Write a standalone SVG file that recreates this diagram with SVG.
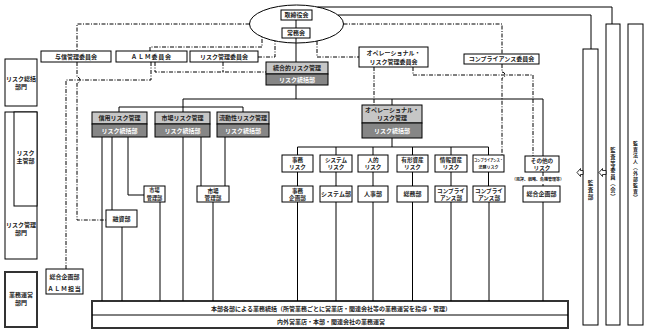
<svg xmlns="http://www.w3.org/2000/svg" width="648" height="332" viewBox="0 0 648 332">
<style>
.b{fill:#fff;stroke:#000;stroke-width:1}
.lt{fill:#c6c6c6;stroke:#000;stroke-width:1}
.dk{fill:#868686;stroke:#000;stroke-width:1}
.th{fill:#fff;stroke:#333;stroke-width:2}
.t{font-family:'Noto Sans CJK JP','Noto Sans CJK SC',sans-serif;font-size:6px;font-weight:bold;text-anchor:middle;fill:#222}
.w{fill:#fff}
.t2{font-size:5.6px}
.sm{font-size:5.2px}
.xs{font-size:4px}
.v1{font-size:5.6px}
.v2{font-size:5.3px}
.v3{font-size:4.9px}
.s{stroke:#000;stroke-width:1;fill:none}
.d{stroke:#000;stroke-width:1;fill:none;stroke-dasharray:4 1.5 1 1.5}
</style>
<rect width="648" height="332" fill="#fff"/>

<g id="n-board">
<ellipse class="b" cx="296.5" cy="24" rx="47" ry="19"/>
<rect class="b" x="281" y="10" width="31" height="10"/>
<text class="t" x="296.5" y="17.3">取締役会</text>
<rect class="b" x="282" y="28" width="28" height="10"/>
<text class="t" x="296" y="35.3">常務会</text>
</g>

<g id="n-yoshin"><rect class="b" x="41" y="51" width="70" height="11"/><text class="t" x="76" y="58.7">与信管理委員会</text></g>
<g id="n-alm"><rect class="b" x="116" y="51" width="71" height="11"/><text class="t" x="151.5" y="58.7" letter-spacing="0.8">ＡＬＭ委員会</text></g>
<g id="n-riskcom"><rect class="b" x="190" y="51" width="68" height="11"/><text class="t" x="224" y="58.7">リスク管理委員会</text></g>
<g id="n-oprcom"><rect class="b" x="359" y="47" width="69" height="20"/><text class="t" x="393.5" y="55.3">オペレーショナル・</text><text class="t" x="393.5" y="63.5">リスク管理委員会</text></g>
<g id="n-compcom"><rect class="b" x="464" y="54" width="75" height="10"/><text class="t" x="501.5" y="61.3">コンプライアンス委員会</text></g>

<g id="n-togo"><rect class="lt" x="266" y="62" width="62" height="12"/><rect class="dk" x="266" y="74" width="62" height="11"/><text class="t" x="297" y="70.3">統合的リスク管理</text><text class="t w" x="297" y="81.7">リスク統括部</text></g>

<g id="n-shinyo"><rect class="lt" x="92" y="112" width="55" height="12"/><rect class="dk" x="92" y="124" width="55" height="13"/><text class="t" x="119.5" y="120.3">信用リスク管理</text><text class="t w" x="119.5" y="132.7">リスク統括部</text></g>
<g id="n-shijo"><rect class="lt" x="155" y="112" width="55" height="12"/><rect class="dk" x="155" y="124" width="55" height="13"/><text class="t" x="182.5" y="120.3">市場リスク管理</text><text class="t w" x="182.5" y="132.7">リスク統括部</text></g>
<g id="n-ryudo"><rect class="lt" x="217" y="112" width="52" height="12"/><rect class="dk" x="217" y="124" width="52" height="13"/><text class="t" x="243" y="120.3">流動性リスク管理</text><text class="t w" x="243" y="132.7">リスク統括部</text></g>
<g id="n-opr"><rect class="lt" x="362" y="105" width="60" height="18"/><rect class="dk" x="362" y="123" width="60" height="15"/><text class="t" x="392" y="112.3">オペレーショナル・</text><text class="t" x="392" y="120.3">リスク管理</text><text class="t w" x="392" y="132.7">リスク統括部</text></g>

<g id="n-shijokanri1"><rect class="b" x="144" y="186" width="21" height="16"/><text class="t sm" x="154.5" y="192.3">市場</text><text class="t sm" x="154.5" y="199.6">管理部</text></g>
<g id="n-shijokanri2"><rect class="b" x="197" y="186" width="32" height="16"/><text class="t t2" x="213" y="192.5">市場</text><text class="t t2" x="213" y="199.7">管理部</text></g>
<g id="n-yushi"><rect class="b" x="106" y="210" width="31" height="17"/><text class="t" x="121.5" y="220.5">融資部</text></g>

<g id="n-jimurisk"><rect class="b" x="282" y="155" width="31" height="17"/><text class="t t2" x="297.5" y="162">事務</text><text class="t t2" x="297.5" y="169.4">リスク</text></g>
<g id="n-sysrisk"><rect class="b" x="320" y="155" width="32" height="17"/><text class="t t2" x="336" y="162">システム</text><text class="t t2" x="336" y="169.4">リスク</text></g>
<g id="n-jinrisk"><rect class="b" x="358" y="155" width="30" height="17"/><text class="t t2" x="373" y="162">人的</text><text class="t t2" x="373" y="169.4">リスク</text></g>
<g id="n-yukeirisk"><rect class="b" x="397" y="155" width="31" height="17"/><text class="t t2" x="412.5" y="162">有形資産</text><text class="t t2" x="412.5" y="169.4">リスク</text></g>
<g id="n-johorisk"><rect class="b" x="435" y="155" width="32" height="17"/><text class="t t2" x="451" y="162">情報資産</text><text class="t t2" x="451" y="169.4">リスク</text></g>
<g id="n-comprisk"><rect class="b" x="473" y="155" width="31" height="17"/><text class="t xs" x="488.5" y="162" textLength="29" lengthAdjust="spacingAndGlyphs">コンプライアンス・</text><text class="t xs" x="488.5" y="169">法務リスク</text></g>
<g id="n-sonota"><rect class="b" x="525" y="156" width="34" height="16"/><text class="t t2" x="542" y="162.5">その他の</text><text class="t t2" x="542" y="169.8">リスク</text><text class="t xs" x="538" y="181.3">（風評、戦略、危機管理等）</text></g>

<g id="n-jimukikaku"><rect class="b" x="282" y="186" width="31" height="16"/><text class="t t2" x="297.5" y="192.5">事務</text><text class="t t2" x="297.5" y="199.7">企画部</text></g>
<g id="n-sysbu"><rect class="b" x="320" y="186" width="32" height="16"/><text class="t" x="336" y="196.2">システム部</text></g>
<g id="n-jinji"><rect class="b" x="358" y="186" width="30" height="16"/><text class="t" x="373" y="196.2">人事部</text></g>
<g id="n-somu"><rect class="b" x="397" y="186" width="31" height="16"/><text class="t" x="412.5" y="196.2">総務部</text></g>
<g id="n-comp1"><rect class="b" x="435" y="186" width="32" height="16"/><text class="t t2" x="451" y="192.5">コンプライ</text><text class="t t2" x="451" y="199.7">アンス部</text></g>
<g id="n-comp2"><rect class="b" x="473" y="186" width="32" height="16"/><text class="t t2" x="489" y="192.5">コンプライ</text><text class="t t2" x="489" y="199.7">アンス部</text></g>
<g id="n-sogo2"><rect class="b" x="523" y="186" width="37" height="16"/><text class="t" x="541.5" y="196.2">総合企画部</text></g>

<g id="n-left-sokatsu"><rect class="b" x="5" y="59" width="32" height="47"/><text class="t" x="21" y="81">リスク総括</text><text class="t" x="21" y="88.5">部門</text></g>
<g id="n-left-kanri"><rect class="b" x="5" y="112" width="32" height="147"/><text class="t" x="21" y="227">リスク管理</text><text class="t" x="21" y="235">部門</text></g>
<g id="n-left-shukan"><rect class="b" x="14" y="112" width="23" height="94"/><text class="t" x="25.5" y="155">リスク</text><text class="t" x="25.5" y="163">主管部</text></g>
<g id="n-left-gyomu"><rect class="th" x="5" y="272" width="32" height="55"/><text class="t" x="21" y="297">業務運営</text><text class="t" x="21" y="305">部門</text></g>
<g id="n-almtanto"><rect class="b" x="46" y="269" width="37" height="25"/><text class="t" x="64.5" y="279.3">総合企画部</text><text class="t" x="64.5" y="291.3" letter-spacing="0.8">ＡＬＭ担当</text></g>

<g id="n-bottom"><rect class="th" x="92" y="301" width="476" height="27"/><line class="s" x1="92" y1="315" x2="568" y2="315"/><text class="t" x="331" y="310.7">本部各部による業務統括（所管業務ごとに営業店・関連会社等の業務運営を指導・管理）</text><text class="t" x="331" y="324.2">内外営業店・本部・関連会社の業務運営</text></g>

<g id="n-kansa"><rect class="b" x="583" y="49" width="15" height="276"/><text class="t v1"><tspan x="590.5" y="185">監</tspan><tspan x="590.5" y="192">査</tspan><tspan x="590.5" y="199">部</tspan></text></g>
<g id="n-kansatou"><rect class="b" x="606" y="24" width="14" height="301"/><text class="t v2"><tspan x="613" y="152.4">監</tspan><tspan x="613" y="159">査</tspan><tspan x="613" y="165.6">等</tspan><tspan x="613" y="172.2">委</tspan><tspan x="613" y="178.8">員</tspan><tspan x="613" y="185.4">︵</tspan><tspan x="613" y="192">会</tspan><tspan x="613" y="198.6">︶</tspan></text></g>
<g id="n-kansahojin"><rect class="b" x="628" y="24" width="15" height="301"/><text class="t v3"><tspan x="635.5" y="145.1">監</tspan><tspan x="635.5" y="151.1">査</tspan><tspan x="635.5" y="157.1">法</tspan><tspan x="635.5" y="163.1">人</tspan><tspan x="635.5" y="169.1">︵</tspan><tspan x="635.5" y="175.1">外</tspan><tspan x="635.5" y="181.1">部</tspan><tspan x="635.5" y="187.1">監</tspan><tspan x="635.5" y="193.1">査</tspan><tspan x="635.5" y="199.1">︶</tspan></text></g>

<g id="connectors">
<path class="s" d="M296,20V28M296,38V62M296,85V99M183,99H543V156M183,99V112M119,112V107H243V112M392,99V105M392,138V147"/>
<path class="s" d="M297.5,147H488.5M297.5,147V155M336,147V155M373,147V155M412.5,147V155M451,147V155M488.5,147V155"/>
<path class="s" d="M297.5,172V186M336,172V186M373,172V186M412.5,172V186M451,172V186M488.5,172V186M543,172V176M543,184V186"/>
<path class="s" d="M297.5,202V301M336,202V301M373,202V301M412.5,202V301M451,202V301M489,202V301M543,202V301"/>
<path class="s" d="M102,137V301M112,137V210M128,137V195H144M160,202V301M122,227V301M183,137V301M201,137V186M225,137V186M213,202V301"/>
<path class="s" d="M317.5,7H612V24M338,15H591V49"/>
<path class="d" d="M249.5,24H77V51M77,62V77a3,3 0 0 1 0,6V220H106M151,62V80H66V269M155,62V72H266M223,62V72M150,51V47H262V37M258,57H275V41"/>
<path class="d" d="M343.5,24H502V54M317,41V57H359M374,67V105M413,67V75H533V156M502,64V72a3,3 0 0 1 0,6V155"/>
<path fill="#fff" stroke="#000" stroke-width="0.8" d="M577,172.5L580.5,168.5V170.5H583V174.5H580.5V176.5Z"/>
<path fill="#fff" stroke="#000" stroke-width="0.8" d="M599,172.5L602.5,168.5V170.5H606V174.5H602.5V176.5Z"/>
</g>
</svg>
